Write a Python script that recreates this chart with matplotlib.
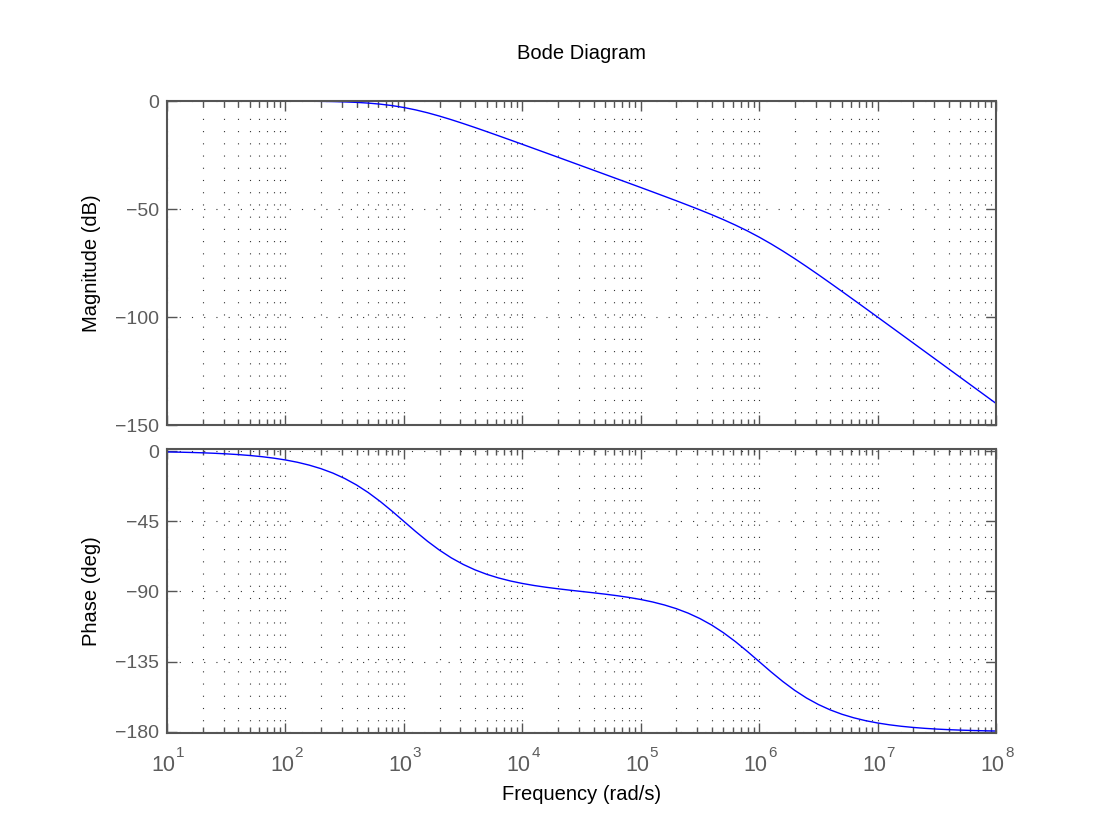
import numpy as np
import matplotlib
matplotlib.use('Agg')
import matplotlib.pyplot as plt
from matplotlib.ticker import LogLocator, NullFormatter

plt.rcParams['font.family'] = ['Liberation Sans', 'DejaVu Sans']

# log10 de la frecuencia (rad/s), cada 0.1 décadas de 10^1 a 10^8
log_w = [1.0, 1.1, 1.2, 1.3, 1.4, 1.5, 1.6, 1.7, 1.8, 1.9,
         2.0, 2.1, 2.2, 2.3, 2.4, 2.5, 2.6, 2.7, 2.8, 2.9,
         3.0, 3.1, 3.2, 3.3, 3.4, 3.5, 3.6, 3.7, 3.8, 3.9,
         4.0, 4.1, 4.2, 4.3, 4.4, 4.5, 4.6, 4.7, 4.8, 4.9,
         5.0, 5.1, 5.2, 5.3, 5.4, 5.5, 5.6, 5.7, 5.8, 5.9,
         6.0, 6.1, 6.2, 6.3, 6.4, 6.5, 6.6, 6.7, 6.8, 6.9,
         7.0, 7.1, 7.2, 7.3, 7.4, 7.5, 7.6, 7.7, 7.8, 7.9,
         8.0]

# Magnitud (dB)
mag_db = [0.0, -0.001, -0.001, -0.002, -0.003, -0.004, -0.007, -0.011, -0.017, -0.027,
          -0.043, -0.068, -0.108, -0.170, -0.266, -0.414, -0.639, -0.973, -1.455, -2.124,
          -3.010, -4.125, -5.455, -6.973, -8.639, -10.414, -12.266, -14.170, -16.108, -18.068,
          -20.04, -22.03, -24.02, -26.01, -28.01, -30.01, -32.01, -34.01, -36.02, -38.03,
          -40.04, -42.07, -44.11, -46.17, -48.27, -50.41, -52.64, -54.97, -57.46, -60.12,
          -63.01, -66.13, -69.46, -72.97, -76.64, -80.41, -84.27, -88.17, -92.11, -96.07,
          -100.04, -104.03, -108.02, -112.01, -116.01, -120.0, -124.0, -128.0, -132.0, -136.0,
          -140.0]

# Fase (grados)
phase_deg = [-0.57, -0.72, -0.91, -1.14, -1.44, -1.81, -2.28, -2.87, -3.61, -4.55,
             -5.72, -7.18, -9.02, -11.30, -14.12, -17.57, -21.73, -26.65, -32.29, -38.51,
             -45.06, -51.61, -57.84, -63.49, -68.44, -72.63, -76.13, -79.01, -81.35, -83.28,
             -84.86, -86.18, -87.30, -88.27, -89.16, -90.00, -90.84, -91.73, -92.70, -93.82,
             -95.14, -96.72, -98.65, -101.00, -103.87, -107.37, -111.56, -116.51, -122.16, -128.39,
             -134.94, -141.50, -147.71, -153.35, -158.28, -162.43, -165.89, -168.71, -170.98, -172.82,
             -174.28, -175.45, -176.39, -177.13, -177.72, -178.19, -178.56, -178.86, -179.09, -179.28,
             -179.43]

mag_ticks = [0, -50, -100, -150]
phase_ticks = [0, -45, -90, -135, -180]
decadas = [1, 2, 3, 4, 5, 6, 7, 8]

w = 10.0 ** np.array(log_w)

W, H = 1100, 826
fig = plt.figure(figsize=(W / 100, H / 100), dpi=100)
ax1 = fig.add_axes([167 / W, 1 - 425 / H, (996 - 167) / W, (425 - 101) / H])
ax2 = fig.add_axes([167 / W, 1 - 733 / H, (996 - 167) / W, (733 - 449) / H])

gris = '#555555'
tick_col = '#5c5c5c'
grid_style = dict(linestyle=(0, (1, 10)), color='#333333', linewidth=0.8)

for ax in (ax1, ax2):
    ax.set_xscale('log')
    ax.set_xlim(1e1, 1e8)
    ax.xaxis.set_major_locator(LogLocator(base=10, numticks=20))
    ax.xaxis.set_minor_locator(LogLocator(base=10, subs=np.arange(2, 10), numticks=20))
    ax.xaxis.set_minor_formatter(NullFormatter())
    ax.tick_params(which='both', direction='in', top=True, right=True,
                   colors=gris, labelcolor=tick_col, labelsize=14)
    ax.tick_params(axis='y', pad=5.5)
    ax.tick_params(which='major', length=7, width=1)
    ax.tick_params(which='minor', length=4, width=1)
    ax.grid(True, which='major', axis='y', **grid_style)
    ax.grid(True, which='both', axis='x', **grid_style)
    for s in ax.spines.values():
        s.set_color(gris)
        s.set_linewidth(1.5)

ax1.plot(w, mag_db, color='#0000ff', linewidth=1.0)
ax1.set_ylim(-150, 0)
ax1.set_yticks(mag_ticks)
ax1.set_yticklabels(['0', '\u221250', '\u2212100', '\u2212150'])
ax1.tick_params(labelbottom=False)
ax1.set_ylabel('Magnitude (dB)', fontsize=14.5, labelpad=10)
ax1.set_title('Bode Diagram', fontsize=14.5, pad=30)

ax2.plot(w, phase_deg, color='#0000ff', linewidth=1.0)
ax2.set_ylim(-180.7, 1.3)
ax2.set_yticks(phase_ticks)
ax2.set_yticklabels(['0', '\u221245', '\u221290', '\u2212135', '\u2212180'])
ax2.set_ylabel('Phase (deg)', fontsize=14.5, labelpad=10)

# etiquetas 10^k al estilo MATLAB: base y exponente separados
ax2.set_xticks([10.0 ** k for k in decadas])
ax2.set_xticklabels([])
for k in decadas:
    ax2.annotate('10', xy=(10.0 ** k, 0), xycoords=('data', 'axes fraction'),
                 xytext=(-2.5, -27.5), textcoords='offset points',
                 ha='center', va='baseline', fontsize=15.5, color=tick_col)
    ax2.annotate(str(k), xy=(10.0 ** k, 0), xycoords=('data', 'axes fraction'),
                 xytext=(6.5, -17), textcoords='offset points',
                 ha='left', va='baseline', fontsize=11, color=tick_col)

ax2.set_xlabel('Frequency (rad/s)', fontsize=14.5)
ax2.xaxis.set_label_coords(0.5, -0.182)

fig.savefig('out.png', dpi=100)
